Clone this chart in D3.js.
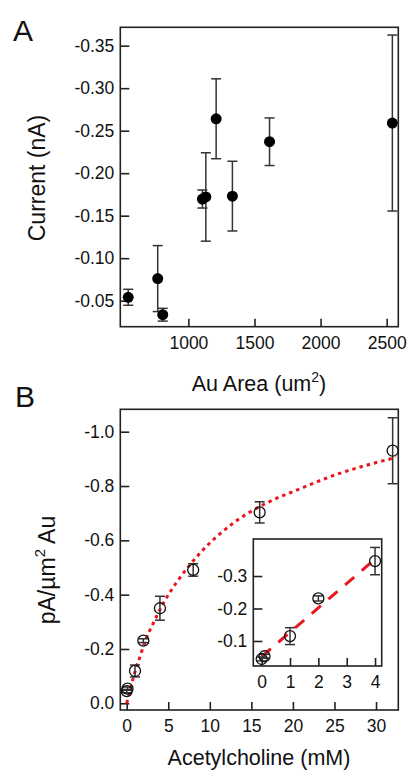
<!DOCTYPE html>
<html>
<head>
<meta charset="utf-8">
<style>
  body { margin: 0; background: #fff; }
  svg text { font-family: "Liberation Sans", Arial, sans-serif; fill: #111; }
</style>
</head>
<body>
<div id="chart"></div>

<script src="https://cdnjs.cloudflare.com/ajax/libs/d3/7.8.5/d3.min.js"></script>
<script>
  // Panel A: current vs gold area
  const areaA = [545, 768, 806, 1106, 1132, 1210, 1333, 1614, 2543];
  const currentA = [-0.054, -0.076, -0.0335, -0.1696, -0.172, -0.264, -0.173, -0.237, -0.259];
  const errA = [0.0094, 0.0388, 0.0075, 0.0106, 0.052, 0.047, 0.041, 0.028, 0.1035];
  const ticksAx = [1000, 1500, 2000, 2500];
  const ticksAy = [-0.05, -0.10, -0.15, -0.20, -0.25, -0.30, -0.35];

  // Panel B: current density vs acetylcholine
  const concB = [0, 0.1, 1, 2, 4, 8, 16, 32];
  const densB = [-0.045, -0.054, -0.119, -0.2305, -0.35, -0.491, -0.703, -0.930];
  const errB = [0.006, 0.006, 0.022, 0.007, 0.044, 0.023, 0.039, 0.1215];
  const ticksBx = [0, 5, 10, 15, 20, 25, 30];
  const ticksBy = [0, -0.2, -0.4, -0.6, -0.8, -1.0];

  // fitted curve
  const fitX = [0, 0.4, 1.0, 1.6, 2.2, 3.2, 4.4, 6.0, 8.8, 12.8, 16.8, 20.8, 24.8, 28.8, 32.4];
  const fitY = [0, -0.049, -0.116, -0.172, -0.227, -0.295, -0.368, -0.445, -0.552, -0.663, -0.737, -0.789, -0.838, -0.876, -0.905];

  // inset: low concentrations with linear fit
  const concIn = [0, 0.1, 1, 2, 4];
  const densIn = [-0.0446, -0.053, -0.115, -0.231, -0.346];
  const errIn = [0.006, 0.006, 0.026, 0.008, 0.042];
  const lineInX = [0, 4];
  const lineInY = [-0.052, -0.352];
  const ticksInx = [0, 1, 2, 3, 4];
  const ticksIny = [-0.1, -0.2, -0.3];

  const width = 408, height = 770;
  const axisColor = "#222";
  const red = "#e8161e";

  const svg = d3.select("#chart").append("svg")
    .attr("width", width)
    .attr("height", height);

  // plain hyphen instead of d3's unicode minus
  const fmt = spec => v => d3.format(spec)(v).replace("\u2212", "-");

  // draws frame + inward ticks for one plot
  function frame(x, y, xt, yt, xfmt, yfmt) {
    const [x0, x1] = x.range();
    const [y0, y1] = y.range();
    const g = svg.append("g");
    g.append("rect")
      .attr("x", x0).attr("y", y1)
      .attr("width", x1 - x0).attr("height", y0 - y1)
      .attr("fill", "#fff")
      .attr("stroke", axisColor)
      .attr("stroke-width", 1.6);

    const ax = g.append("g")
      .attr("transform", `translate(0,${y0})`)
      .call(d3.axisBottom(x).tickValues(xt).tickFormat(xfmt).tickSize(-8).tickPadding(10));
    const ay = g.append("g")
      .attr("transform", `translate(${x0},0)`)
      .call(d3.axisLeft(y).tickValues(yt).tickFormat(yfmt).tickSize(-9).tickPadding(6));
    [ax, ay].forEach(a => {
      a.select(".domain").remove();
      a.selectAll(".tick line").attr("stroke", axisColor).attr("stroke-width", 1.6);
      a.selectAll(".tick text")
        .attr("font-size", 17.5)
        .attr("fill", "#111")
        .attr("font-family", "Liberation Sans, Arial, sans-serif");
    });
    return g;
  }

  function errorBars(g, x, y, xs, ys, es, cap) {
    const bars = g.append("g")
      .attr("stroke", "#333")
      .attr("stroke-width", 1.5);
    xs.forEach((v, i) => {
      const cx = x(v), top = y(ys[i] - es[i]), bot = y(ys[i] + es[i]);
      bars.append("line").attr("x1", cx).attr("x2", cx).attr("y1", top).attr("y2", bot);
      bars.append("line").attr("x1", cx - cap).attr("x2", cx + cap).attr("y1", top).attr("y2", top);
      bars.append("line").attr("x1", cx - cap).attr("x2", cx + cap).attr("y1", bot).attr("y2", bot);
    });
  }

  // ---------- Panel A ----------
  const xA = d3.scaleLinear().domain([485, 2588]).range([120.3, 398.3]);
  const yA = d3.scaleLinear().domain([-0.0194, -0.3716]).range([326.7, 27.3]);
  const gA = frame(xA, yA, ticksAx, ticksAy, fmt("d"), fmt(".2f"));
  errorBars(gA, xA, yA, areaA, currentA, errA, 5);
  gA.append("g").selectAll("circle")
    .data(areaA)
    .join("circle")
    .attr("cx", d => xA(d))
    .attr("cy", (d, i) => yA(currentA[i]))
    .attr("r", 5.5)
    .attr("fill", "#000");

  svg.append("text").attr("x", 13).attr("y", 41).attr("font-size", 30).text("A");
  svg.append("text")
    .attr("transform", "translate(45,178) rotate(-90)")
    .attr("text-anchor", "middle")
    .attr("font-size", 23)
    .text("Current (nA)");
  const tA = svg.append("text")
    .attr("x", 259).attr("y", 391)
    .attr("text-anchor", "middle")
    .attr("font-size", 21.5);
  tA.append("tspan").text("Au Area (um");
  tA.append("tspan").attr("dy", -9).attr("font-size", 14).text("2");
  tA.append("tspan").attr("dy", 9).text(")");

  // ---------- Panel B ----------
  const xB = d3.scaleLinear().domain([-0.77, 32.68]).range([120.3, 398.3]);
  const yB = d3.scaleLinear().domain([0.0247, -1.0825]).range([710, 409.3]);
  const gB = frame(xB, yB, ticksBx, ticksBy, fmt("d"), fmt(".1f"));

  gB.append("path")
    .datum(fitX.map((v, i) => [v, fitY[i]]))
    .attr("fill", "none")
    .attr("stroke", red)
    .attr("stroke-width", 3)
    .attr("stroke-dasharray", "3.5 4")
    .attr("d", d3.line().x(d => xB(d[0])).y(d => yB(d[1])).curve(d3.curveMonotoneX));

  errorBars(gB, xB, yB, concB, densB, errB, 5);
  gB.append("g").selectAll("circle")
    .data(concB)
    .join("circle")
    .attr("cx", d => xB(d))
    .attr("cy", (d, i) => yB(densB[i]))
    .attr("r", 5.5)
    .attr("fill", "none")
    .attr("stroke", "#111")
    .attr("stroke-width", 1.3);

  svg.append("text").attr("x", 15).attr("y", 407).attr("font-size", 30).text("B");
  const tBy = svg.append("text")
    .attr("transform", "translate(55,570) rotate(-90)")
    .attr("text-anchor", "middle")
    .attr("font-size", 23);
  tBy.append("tspan").text("pA/\u00b5m");
  tBy.append("tspan").attr("dy", -10).attr("font-size", 15).text("2");
  tBy.append("tspan").attr("dy", 10).text(" Au");
  svg.append("text")
    .attr("x", 259).attr("y", 765)
    .attr("text-anchor", "middle")
    .attr("font-size", 21.5)
    .text("Acetylcholine (mM)");

  // ---------- Inset ----------
  const xI = d3.scaleLinear().domain([-0.296, 4.235]).range([253.3, 381.7]);
  const yI = d3.scaleLinear().domain([-0.023, -0.414]).range([666, 539]);
  const gI = frame(xI, yI, ticksInx, ticksIny, fmt("d"), fmt(".1f"));

  gI.append("path")
    .datum(lineInX.map((v, i) => [v, lineInY[i]]))
    .attr("fill", "none")
    .attr("stroke", red)
    .attr("stroke-width", 3)
    .attr("stroke-dasharray", "12 10")
    .attr("d", d3.line().x(d => xI(d[0])).y(d => yI(d[1])));

  errorBars(gI, xI, yI, concIn, densIn, errIn, 5);
  gI.append("g").selectAll("circle")
    .data(concIn)
    .join("circle")
    .attr("cx", d => xI(d))
    .attr("cy", (d, i) => yI(densIn[i]))
    .attr("r", 5.5)
    .attr("fill", "none")
    .attr("stroke", "#111")
    .attr("stroke-width", 1.3);
</script>
</body>
</html>
